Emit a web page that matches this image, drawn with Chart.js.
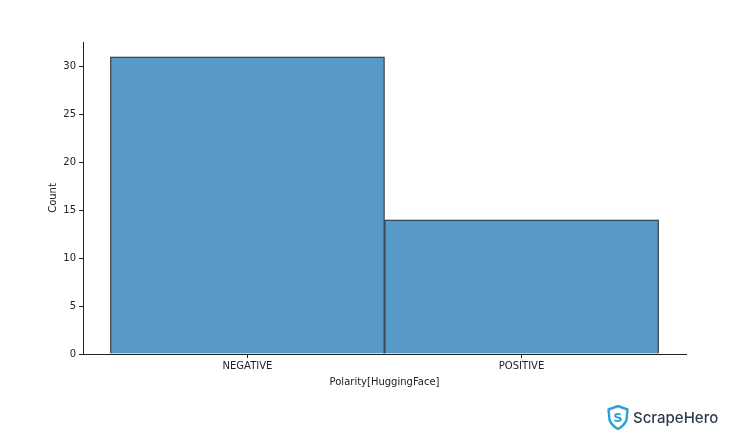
<!DOCTYPE html>
<html>
<head>
<meta charset="utf-8">
<script src="https://cdn.jsdelivr.net/npm/chart.js@4/dist/chart.umd.min.js"></script>
<style>
  html, body { margin: 0; padding: 0; background: #fff; }
  #wrap { position: relative; width: 744px; height: 445px; }
  #logo { position: absolute; left: 607px; top: 405px; display: flex; align-items: center; }
  #logo span { font-family: "Inter", "Noto Sans", sans-serif; font-size: 15px; color: #2f3b48; margin-left: 4px; font-weight: 500; }
</style>
</head>
<body>
<div id="wrap">
  <canvas id="chart" width="744" height="445"></canvas>
  <div id="logo">
    <svg width="22" height="25" viewBox="0 0 22 25">
      <path d="M11 1 L20.5 4.5 L19.5 15 Q17 21 11 24 Q5 21 2.5 15 L1.5 4.5 Z" fill="none" stroke="#2b9fd9" stroke-width="2.4" stroke-linejoin="round"/>
      <text x="11" y="17" text-anchor="middle" font-family="DejaVu Sans" font-weight="bold" font-size="13" fill="#2b9fd9">S</text>
    </svg>
    <span>ScrapeHero</span>
  </div>
</div>
<script>
const categories = ['NEGATIVE', 'POSITIVE'];
const counts = [31, 14];
const yTicks = [0, 5, 10, 15, 20, 25, 30];

const tickFont = { family: 'DejaVu Sans', size: 10 };

const ctx = document.getElementById('chart').getContext('2d');
new Chart(ctx, {
  type: 'bar',
  data: {
    datasets: [{
      data: counts.map((c, i) => ({ x: i, y: c })),
      backgroundColor: 'rgb(87,153,199)',
      borderColor: '#26323a',
      borderWidth: 1.2,
      borderSkipped: 'bottom',
      barPercentage: 1,
      categoryPercentage: 1
    }]
  },
  options: {
    responsive: false,
    animation: false,
    layout: { padding: { top: 42, right: 58, left: 0, bottom: 0 } },
    plugins: { legend: { display: false }, tooltip: { enabled: false } },
    scales: {
      x: {
        type: 'linear',
        offset: false,
        min: -0.6,
        max: 1.6,
        afterBuildTicks: s => { s.ticks = categories.map((_, i) => ({ value: i })); },
        afterFit: s => { s.height = 91; },
        ticks: {
          callback: v => categories[v],
          color: '#222',
          font: tickFont,
          padding: 2,
          maxRotation: 0
        },
        grid: { offset: false, drawOnChartArea: false, tickLength: 4, tickColor: '#222' },
        border: { color: '#222', width: 1 },
        title: { display: true, text: 'Polarity[HuggingFace]', color: '#222', font: tickFont, padding: { top: 0, bottom: 57 } }
      },
      y: {
        min: 0,
        max: 32.55,
        afterBuildTicks: s => { s.ticks = yTicks.map(v => ({ value: v })); },
        afterFit: s => { s.width = 83; },
        ticks: { color: '#222', font: tickFont, padding: 3 },
        grid: { drawOnChartArea: false, tickLength: 4, tickColor: '#222' },
        border: { color: '#222', width: 1 },
        title: { display: true, text: 'Count', color: '#222', font: tickFont, padding: { top: 47, bottom: 0 } }
      }
    }
  }
});
</script>
</body>
</html>
